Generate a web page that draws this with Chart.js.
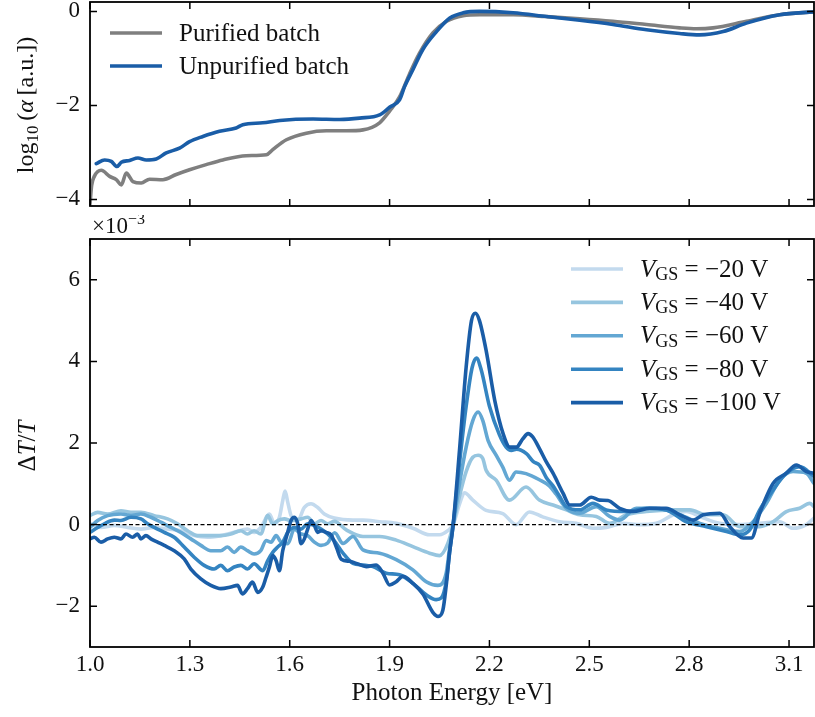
<!DOCTYPE html>
<html>
<head>
<meta charset="utf-8">
<script src="https://cdn.jsdelivr.net/npm/chart.js@4/dist/chart.umd.min.js"></script>
<style>
  html, body { margin: 0; padding: 0; background: #ffffff; }
  #wrap { position: relative; width: 815px; height: 717px; overflow: hidden; }
  #absCanvas { position: absolute; left: 0; top: 0; }
  #dtCanvas { position: absolute; left: 0; top: 215px; }
</style>
</head>
<body>
<div id="wrap">
  <canvas id="absCanvas" width="815" height="215"></canvas>
  <canvas id="dtCanvas" width="815" height="502"></canvas>
</div>
<script>
// ---- axis settings -------------------------------------------------------
const energyMin = 1.0;
const energyMax = 3.175;
const energyTicks = [1.0, 1.3, 1.6, 1.9, 2.2, 2.5, 2.8, 3.1];
const absTicks = [0, -2, -4];
const dtTicks = [-2, 0, 2, 4, 6];

// ---- absorption spectra: log10(alpha) ------------------------------------
const purifiedE = [1.000, 1.005, 1.013, 1.034, 1.059, 1.079, 1.094, 1.109, 1.129, 1.154,
  1.179, 1.219, 1.259, 1.299, 1.349, 1.399, 1.469, 1.530, 1.549, 1.590,
  1.650, 1.710, 1.770, 1.820, 1.870, 1.900, 1.930, 1.960, 1.990, 2.030,
  2.071, 2.121, 2.171, 2.271, 2.371, 2.471, 2.571, 2.672, 2.771, 2.822,
  2.872, 2.972, 3.072, 3.175];
const purifiedLogAlpha = [-4.10, -3.70, -3.51, -3.38, -3.51, -3.58, -3.69, -3.44, -3.62, -3.65,
  -3.57, -3.58, -3.47, -3.37, -3.26, -3.16, -3.07, -3.05, -2.94, -2.73,
  -2.59, -2.54, -2.54, -2.52, -2.37, -2.12, -1.82, -1.33, -0.89, -0.46,
  -0.21, -0.09, -0.07, -0.07, -0.11, -0.155, -0.21, -0.28, -0.35, -0.37,
  -0.35, -0.21, -0.07, -0.01];

const unpurifiedE = [1.019, 1.044, 1.064, 1.081, 1.094, 1.119, 1.144, 1.169, 1.199, 1.229,
  1.269, 1.299, 1.339, 1.389, 1.439, 1.459, 1.519, 1.570, 1.670, 1.750,
  1.810, 1.870, 1.900, 1.930, 1.945, 1.970, 2.000, 2.041, 2.081, 2.121,
  2.171, 2.271, 2.371, 2.471, 2.571, 2.672, 2.771, 2.831, 2.902, 2.972,
  3.072, 3.175];
const unpurifiedLogAlpha = [-3.24, -3.16, -3.19, -3.30, -3.21, -3.17, -3.12, -3.16, -3.14, -3.01,
  -2.91, -2.77, -2.66, -2.55, -2.48, -2.41, -2.37, -2.32, -2.29, -2.30,
  -2.27, -2.20, -2.04, -1.88, -1.60, -1.24, -0.81, -0.43, -0.14, -0.03,
  0.00, -0.03, -0.11, -0.19, -0.28, -0.39, -0.47, -0.50, -0.43, -0.25,
  -0.07, -0.01];

// ---- differential transmission dT/T (units of 1e-3) ----------------------
const gateVoltages = [-20, -40, -60, -80, -100];

const e20 = [1.000, 1.033, 1.073, 1.113, 1.153, 1.193, 1.233, 1.273, 1.313, 1.353,
  1.393, 1.433, 1.473, 1.493, 1.513, 1.539, 1.554, 1.569, 1.579, 1.586,
  1.594, 1.604, 1.624, 1.644, 1.664, 1.684, 1.704, 1.734, 1.790, 1.820,
  1.870, 1.920, 1.970, 2.020, 2.050, 2.075, 2.091, 2.110, 2.125, 2.150,
  2.190, 2.240, 2.280, 2.320, 2.360, 2.411, 2.460, 2.511, 2.551, 2.601,
  2.651, 2.701, 2.752, 2.792, 2.832, 2.892, 2.952, 3.012, 3.072, 3.112,
  3.152, 3.175];
const dt20 = [0.02, -0.07, -0.02, -0.07, -0.11, -0.07, -0.11, -0.15, -0.27, -0.31,
  -0.27, -0.19, -0.11, -0.19, -0.07, 0.26, 0.02, 0.18, 0.59, 0.82,
  0.55, 0.22, 0.10, 0.42, 0.51, 0.42, 0.26, 0.16, 0.11, 0.11,
  0.07, 0.03, -0.09, -0.25, -0.25, -0.15, 0.00, 0.50, 0.78, 0.60,
  0.35, 0.27, 0.00, 0.31, 0.19, 0.07, 0.03, -0.09, -0.07, 0.03,
  0.00, 0.03, 0.24, 0.32, 0.20, 0.03, 0.00, 0.03, 0.07, -0.09,
  0.00, 0.16];

const e40 = [1.000, 1.023, 1.053, 1.093, 1.123, 1.153, 1.193, 1.233, 1.263, 1.293,
  1.323, 1.353, 1.393, 1.423, 1.453, 1.473, 1.493, 1.513, 1.534, 1.549,
  1.564, 1.584, 1.604, 1.634, 1.654, 1.674, 1.694, 1.714, 1.734, 1.770,
  1.820, 1.870, 1.920, 1.970, 2.020, 2.050, 2.075, 2.091, 2.110, 2.130,
  2.150, 2.166, 2.180, 2.190, 2.220, 2.260, 2.310, 2.350, 2.391, 2.431,
  2.471, 2.521, 2.561, 2.611, 2.671, 2.752, 2.802, 2.852, 2.902, 2.952,
  3.012, 3.052, 3.092, 3.132, 3.162, 3.175];
const dt40 = [0.22, 0.30, 0.26, 0.34, 0.30, 0.30, 0.22, 0.14, 0.02, -0.15,
  -0.27, -0.27, -0.27, -0.23, -0.15, -0.23, -0.15, -0.23, 0.22, 0.02,
  0.10, 0.14, 0.10, 0.14, 0.18, 0.02, 0.10, 0.02, 0.08, -0.13,
  -0.29, -0.29, -0.38, -0.54, -0.70, -0.76, -0.46, 0.00, 0.70, 1.30,
  1.65, 1.70, 1.62, 1.33, 1.09, 0.60, 0.92, 0.60, 0.48, 0.36,
  0.24, 0.20, 0.03, 0.24, 0.32, 0.36, 0.36, 0.24, 0.24, -0.05,
  -0.05, 0.07, 0.32, 0.40, 0.52, 0.44];

const e60 = [1.000, 1.023, 1.053, 1.093, 1.123, 1.153, 1.183, 1.213, 1.243, 1.273,
  1.303, 1.333, 1.363, 1.393, 1.413, 1.433, 1.453, 1.473, 1.493, 1.513,
  1.529, 1.544, 1.559, 1.574, 1.594, 1.614, 1.634, 1.654, 1.674, 1.694,
  1.714, 1.735, 1.760, 1.790, 1.820, 1.870, 1.920, 1.970, 2.010, 2.045,
  2.070, 2.080, 2.091, 2.110, 2.130, 2.150, 2.166, 2.180, 2.196, 2.220,
  2.240, 2.260, 2.280, 2.310, 2.350, 2.380, 2.400, 2.431, 2.471, 2.521,
  2.561, 2.591, 2.641, 2.701, 2.772, 2.832, 2.892, 2.952, 2.992, 3.032,
  3.072, 3.112, 3.152, 3.175];
const dt60 = [-0.07, 0.10, 0.22, 0.26, 0.22, 0.26, 0.18, 0.06, -0.07, -0.19,
  -0.35, -0.51, -0.64, -0.64, -0.55, -0.68, -0.55, -0.64, -0.72, -0.64,
  -0.39, -0.43, -0.27, -0.43, -0.47, -0.11, -0.23, -0.27, -0.43, -0.51,
  -0.45, -0.20, -0.46, -0.29, -0.62, -0.70, -0.86, -1.11, -1.40, -1.49,
  -1.19, -0.60, 0.00, 1.00, 1.90, 2.55, 2.76, 2.55, 2.06, 1.70,
  1.41, 1.09, 1.29, 1.25, 1.10, 0.95, 0.75, 0.40, 0.28, 0.44,
  0.20, 0.11, 0.40, 0.40, 0.24, 0.03, -0.09, -0.17, 0.07, 0.52,
  1.09, 1.30, 1.26, 1.01];

const e80 = [1.000, 1.023, 1.043, 1.073, 1.093, 1.123, 1.153, 1.173, 1.193, 1.223,
  1.253, 1.283, 1.313, 1.343, 1.373, 1.393, 1.413, 1.433, 1.453, 1.473,
  1.493, 1.519, 1.534, 1.549, 1.564, 1.579, 1.594, 1.614, 1.634, 1.654,
  1.674, 1.694, 1.714, 1.734, 1.760, 1.790, 1.820, 1.850, 1.890, 1.930,
  1.970, 2.010, 2.040, 2.055, 2.070, 2.080, 2.091, 2.110, 2.130, 2.148,
  2.161, 2.175, 2.200, 2.230, 2.250, 2.266, 2.281, 2.311, 2.331, 2.351,
  2.371, 2.391, 2.410, 2.431, 2.471, 2.511, 2.551, 2.611, 2.671, 2.731,
  2.792, 2.852, 2.912, 2.952, 2.982, 3.012, 3.052, 3.092, 3.132, 3.175];
const dt80 = [-0.19, -0.07, 0.02, 0.11, 0.10, 0.18, 0.14, 0.02, -0.07, -0.19,
  -0.31, -0.55, -0.80, -1.00, -1.09, -1.00, -1.13, -1.04, -1.00, -1.09,
  -0.96, -1.13, -0.88, -0.68, -0.55, -0.43, -0.19, -0.07, -0.11, 0.02,
  -0.02, -0.11, -0.23, -0.40, -0.70, -0.95, -0.99, -1.03, -1.19, -1.23,
  -1.44, -1.72, -1.84, -1.80, -1.40, -0.70, 0.00, 1.50, 2.90, 3.85,
  4.08, 3.80, 2.90, 2.20, 1.90, 1.82, 1.85, 1.74, 1.55, 1.45,
  1.15, 0.95, 0.70, 0.44, 0.36, 0.52, 0.36, 0.32, 0.40, 0.36,
  0.07, -0.05, -0.17, -0.25, -0.13, 0.36, 0.85, 1.26, 1.42, 1.18];

const e100 = [1.000, 1.013, 1.033, 1.053, 1.073, 1.093, 1.108, 1.128, 1.143, 1.153,
  1.168, 1.183, 1.203, 1.223, 1.253, 1.283, 1.303, 1.333, 1.363, 1.393,
  1.423, 1.443, 1.458, 1.473, 1.488, 1.504, 1.519, 1.529, 1.539, 1.549,
  1.559, 1.569, 1.579, 1.594, 1.604, 1.614, 1.624, 1.634, 1.644, 1.654,
  1.664, 1.674, 1.684, 1.694, 1.709, 1.724, 1.740, 1.755, 1.780, 1.800,
  1.830, 1.860, 1.880, 1.900, 1.920, 1.940, 1.970, 2.000, 2.030, 2.046,
  2.060, 2.070, 2.080, 2.091, 2.110, 2.130, 2.146, 2.158, 2.170, 2.190,
  2.216, 2.241, 2.261, 2.281, 2.300, 2.316, 2.330, 2.351, 2.370, 2.391,
  2.421, 2.441, 2.471, 2.506, 2.531, 2.556, 2.591, 2.631, 2.681, 2.731,
  2.772, 2.812, 2.842, 2.892, 2.922, 2.962, 2.987, 3.012, 3.052, 3.092,
  3.122, 3.152, 3.175];
const dt100 = [-0.35, -0.31, -0.43, -0.35, -0.31, -0.35, -0.23, -0.31, -0.23, -0.35,
  -0.27, -0.35, -0.43, -0.51, -0.64, -0.84, -1.09, -1.33, -1.49, -1.57,
  -1.53, -1.49, -1.70, -1.57, -1.41, -1.66, -1.53, -1.29, -1.04, -0.76,
  -0.88, -1.13, -0.64, -0.19, 0.10, 0.18, 0.02, -0.47, -0.35, -0.11,
  0.10, -0.02, -0.19, -0.15, -0.19, -0.25, -0.55, -0.85, -0.90, -0.95,
  -1.03, -0.99, -1.19, -1.48, -1.40, -1.27, -1.44, -1.70, -2.15, -2.25,
  -2.10, -1.50, -0.70, 0.00, 1.82, 3.86, 5.00, 5.18, 5.00, 4.27,
  3.04, 2.23, 1.90, 1.90, 2.10, 2.23, 2.15, 1.85, 1.55, 1.26,
  0.77, 0.48, 0.48, 0.67, 0.60, 0.59, 0.40, 0.32, 0.40, 0.40,
  0.24, 0.11, 0.24, 0.28, -0.05, -0.33, -0.33, 0.28, 1.01, 1.26,
  1.46, 1.30, 1.26];

// ---- styling -------------------------------------------------------------
const SERIF = "'Liberation Serif', 'Times New Roman', serif";
const INK = '#111111';
const LINE_W = 3.6;
const purifiedColor = '#7f7f7f';
const unpurifiedColor = '#1a5da7';
const gateColors = ['#c3daee', '#96c5df', '#63a7d3', '#3484c1', '#1a5da7'];
const absLabels = ['Purified batch', 'Unpurified batch'];

const minusFmt = v => (v < 0 ? '\u2212' + Math.abs(v) : String(v));
const pairs = (xs, ys) => xs.map((x, i) => ({ x, y: ys[i] }));

// draw a sequence of text runs (font, offset) left to right; returns width
function textRuns(ctx, x, y, runs, measureOnly) {
  let cx = x;
  for (const r of runs) {
    ctx.font = (r.italic ? 'italic ' : '') + r.size + 'px ' + SERIF;
    if (!measureOnly) ctx.fillText(r.text, cx, y + (r.dy || 0));
    cx += ctx.measureText(r.text).width;
  }
  return cx - x;
}

function drawFrame(chart) {
  const { ctx, chartArea: { left, right, top, bottom }, scales: { x, y } } = chart;
  ctx.save();
  ctx.strokeStyle = '#000';
  ctx.lineWidth = 1.5;
  ctx.beginPath();
  for (const v of energyTicks) {
    const px = x.getPixelForValue(v);
    ctx.moveTo(px, bottom); ctx.lineTo(px, bottom - 7);
    ctx.moveTo(px, top); ctx.lineTo(px, top + 7);
  }
  for (const t of y.ticks) {
    const py = y.getPixelForValue(t.value);
    ctx.moveTo(left, py); ctx.lineTo(left + 7, py);
    ctx.moveTo(right, py); ctx.lineTo(right - 7, py);
  }
  ctx.stroke();
  ctx.lineWidth = 1.8;
  ctx.strokeRect(left, top, right - left, bottom - top);
  ctx.restore();
}

function legendLine(ctx, x0, x1, y, color) {
  ctx.save();
  ctx.strokeStyle = color;
  ctx.lineWidth = LINE_W;
  ctx.beginPath(); ctx.moveTo(x0, y); ctx.lineTo(x1, y); ctx.stroke();
  ctx.restore();
}

function yScale(min, max, ticks) {
  return {
    type: 'linear', min, max,
    afterBuildTicks: s => { s.ticks = ticks.map(v => ({ value: v })); },
    afterFit: s => { s.width = 90; s.paddingTop = 0; s.paddingBottom = 0; },
    grid: { display: false, drawTicks: false },
    border: { display: false },
    ticks: {
      padding: 10, color: INK,
      font: { family: SERIF, size: 23 },
      callback: v => minusFmt(v)
    }
  };
}

function lineSet(label, data, color, order) {
  return {
    label, data, order,
    borderColor: color, backgroundColor: color,
    borderWidth: LINE_W, pointRadius: 0, fill: false,
    cubicInterpolationMode: 'monotone',
    borderJoinStyle: 'round', borderCapStyle: 'round'
  };
}

// ---- upper panel: absorption ---------------------------------------------
const absPlugin = {
  id: 'absDecor',
  afterDraw(chart) {
    const ctx = chart.ctx;
    drawFrame(chart);
    ctx.save();
    ctx.fillStyle = INK;
    ctx.textBaseline = 'middle';
    const rows = [33, 66];
    const colors = [purifiedColor, unpurifiedColor];
    rows.forEach((ry, i) => {
      legendLine(ctx, 110, 162, ry, colors[i]);
      ctx.font = '25px ' + SERIF;
      ctx.fillText(absLabels[i], 179, ry + 1);
    });
    // rotated axis title: log10 (alpha [a.u.])
    ctx.textBaseline = 'alphabetic';
    const runs = [
      { text: 'log', size: 24 },
      { text: '10', size: 17, dy: 5 },
      { text: '\u2009(', size: 24 },
      { text: '\u03b1', size: 24, italic: true },
      { text: '\u2009[a.u.])', size: 24 }
    ];
    const w = textRuns(ctx, 0, 0, runs, true);
    ctx.translate(33, 105);
    ctx.rotate(-Math.PI / 2);
    textRuns(ctx, -w / 2, 0, runs);
    ctx.restore();
  }
};

new Chart(document.getElementById('absCanvas'), {
  type: 'line',
  data: {
    datasets: [
      lineSet(absLabels[0], pairs(purifiedE, purifiedLogAlpha), purifiedColor, 2),
      lineSet(absLabels[1], pairs(unpurifiedE, unpurifiedLogAlpha), unpurifiedColor, 1)
    ]
  },
  options: {
    responsive: false, animation: false, devicePixelRatio: 1,
    layout: { padding: { left: 0, right: 1, top: 2, bottom: 9 } },
    plugins: { legend: { display: false }, tooltip: { enabled: false } },
    scales: {
      x: { type: 'linear', min: energyMin, max: energyMax, display: false },
      y: yScale(-4.14, 0.2, absTicks)
    }
  },
  plugins: [absPlugin]
});

// ---- lower panel: differential transmission ------------------------------
const dtPlugin = {
  id: 'dtDecor',
  afterDatasetsDraw(chart) {
    const { ctx, chartArea: { left, right }, scales: { y } } = chart;
    const py = y.getPixelForValue(0);
    ctx.save();
    ctx.strokeStyle = '#000';
    ctx.lineWidth = 1.1;
    ctx.setLineDash([4, 2.5]);
    ctx.beginPath(); ctx.moveTo(left, py); ctx.lineTo(right, py); ctx.stroke();
    ctx.restore();
  },
  afterDraw(chart) {
    const ctx = chart.ctx;
    drawFrame(chart);
    ctx.save();
    ctx.fillStyle = INK;
    // legend with subscripted V_GS
    ctx.textBaseline = 'middle';
    gateVoltages.forEach((v, i) => {
      const ry = 54 + i * 33.4;
      legendLine(ctx, 571, 623, ry, gateColors[i]);
      textRuns(ctx, 640, ry + 1, [
        { text: 'V', size: 25, italic: true },
        { text: 'GS', size: 18, dy: 5 },
        { text: ' = ' + minusFmt(v) + ' V', size: 25 }
      ]);
    });
    // offset multiplier above the axes
    ctx.textBaseline = 'alphabetic';
    textRuns(ctx, 92, 18, [
      { text: '\u00d710', size: 23 },
      { text: '\u22123', size: 16, dy: -9 }
    ]);
    // x axis title
    ctx.font = '25px ' + SERIF;
    ctx.textAlign = 'center';
    ctx.fillText('Photon Energy [eV]', (chart.chartArea.left + chart.chartArea.right) / 2, 485);
    ctx.textAlign = 'left';
    // rotated y axis title: Delta T / T
    const runs = [
      { text: '\u0394', size: 25 },
      { text: 'T', size: 25, italic: true },
      { text: '/', size: 25 },
      { text: 'T', size: 25, italic: true }
    ];
    const w = textRuns(ctx, 0, 0, runs, true);
    ctx.translate(35, 231);
    ctx.rotate(-Math.PI / 2);
    textRuns(ctx, -w / 2, 0, runs);
    ctx.restore();
  }
};

const gateEnergies = [e20, e40, e60, e80, e100];
const gateSignals = [dt20, dt40, dt60, dt80, dt100];

new Chart(document.getElementById('dtCanvas'), {
  type: 'line',
  data: {
    datasets: gateVoltages.map((v, i) =>
      lineSet('V_GS = ' + v + ' V', pairs(gateEnergies[i], gateSignals[i]), gateColors[i], gateVoltages.length - i))
  },
  options: {
    responsive: false, animation: false, devicePixelRatio: 1,
    layout: { padding: { left: 0, right: 1, top: 24, bottom: 0 } },
    plugins: { legend: { display: false }, tooltip: { enabled: false } },
    scales: {
      x: {
        type: 'linear', min: energyMin, max: energyMax,
        afterBuildTicks: s => { s.ticks = energyTicks.map(v => ({ value: v })); },
        afterFit: s => { s.height = 70; },
        grid: { display: false, drawTicks: false },
        border: { display: false },
        ticks: {
          padding: 4, color: INK, autoSkip: false, maxRotation: 0,
          font: { family: SERIF, size: 23 },
          callback: v => Number(v).toFixed(1)
        }
      },
      y: yScale(-3, 7, dtTicks)
    }
  },
  plugins: [dtPlugin]
});
</script>
</body>
</html>
